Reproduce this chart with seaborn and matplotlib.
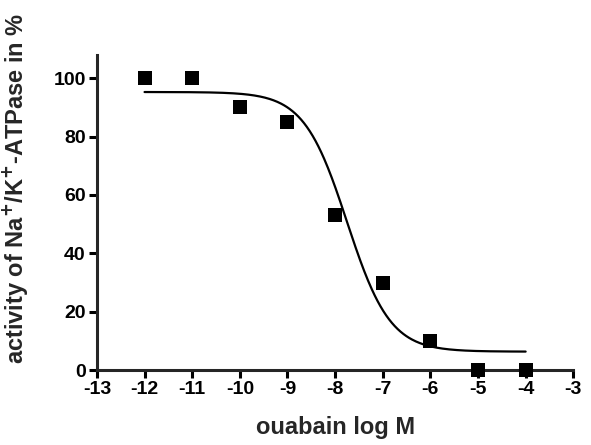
import numpy as np
import pandas as pd
import matplotlib
matplotlib.use("Agg")
import matplotlib.pyplot as plt
import seaborn as sns

# datos
log_ouabain = [-12, -11, -10, -9, -8, -7, -6, -5, -4]
actividad = [100, 100, 90, 85, 53, 30, 10, 0, 0]

# parametros del ajuste sigmoidal (4PL)
top, bottom = 95.3, 6.3
log_ic50, hill = -7.75, 0.96

sns.set_style("ticks")
plt.rcParams['font.family'] = ['Liberation Sans', 'DejaVu Sans']
plt.rcParams['font.weight'] = 'bold'
plt.rcParams['mathtext.default'] = 'bf'
plt.rcParams['axes.unicode_minus'] = False

df = pd.DataFrame({'x': log_ouabain, 'y': actividad})
xc = np.linspace(min(log_ouabain), max(log_ouabain), 400)
curva = pd.DataFrame({'x': xc, 'y': bottom + (top - bottom) / (1 + 10 ** ((xc - log_ic50) * hill))})

fig = plt.figure(figsize=(5.91, 4.45), dpi=100)
ax = fig.add_axes([0.164, 0.1685, 0.806, 0.708])

sns.lineplot(data=curva, x='x', y='y', color='black', linewidth=1.6, ax=ax)
sns.scatterplot(data=df, x='x', y='y', marker='s', s=110, color='black',
                edgecolor='black', linewidth=0, ax=ax, clip_on=False, zorder=5)

ax.set_xlim(-13, -3)
ax.set_ylim(0, 108)
ax.set_xticks(range(-13, -2))
ax.set_yticks(range(0, 101, 20))
for s in ['top', 'right']:
    ax.spines[s].set_visible(False)
for s in ['left', 'bottom']:
    ax.spines[s].set_linewidth(2.2)
ax.tick_params(width=2.2, length=6, labelsize=14, pad=2, colors='black')
for lab in ax.get_xticklabels() + ax.get_yticklabels():
    lab.set_fontweight('bold')

ax.set_xlabel('ouabain log M', fontsize=17, fontweight='bold', labelpad=13)
ax.set_ylabel('activity of Na$^{+}$/K$^{+}$-ATPase in %', fontsize=17,
              fontweight='bold')
ax.yaxis.set_label_coords(-0.14, 0.578)

fig.savefig('out.png', dpi=100)
